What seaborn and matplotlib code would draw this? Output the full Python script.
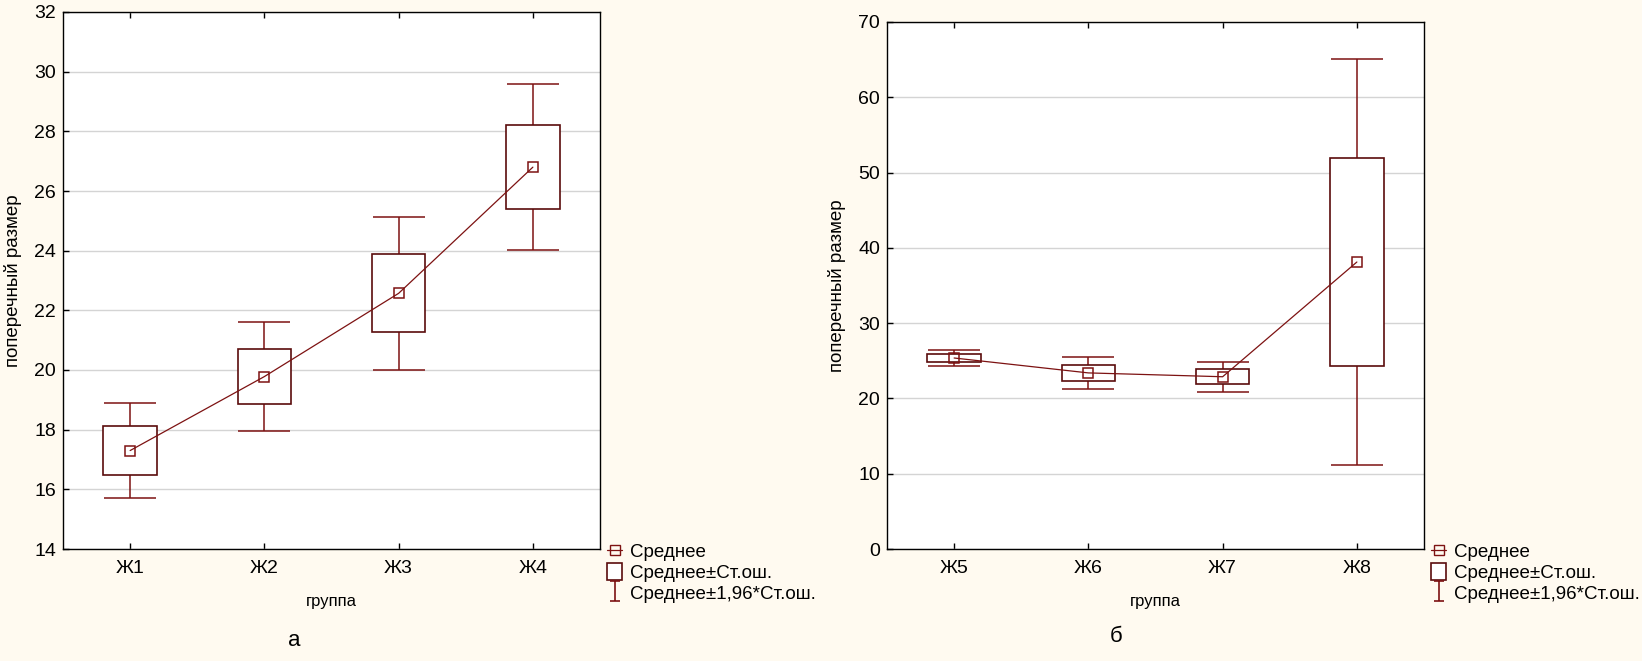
import matplotlib.pyplot as plt
import seaborn as sns
import numpy as np
from matplotlib.lines import Line2D
from matplotlib.patches import Rectangle
from matplotlib.path import Path

# panel "а"
groups_a = ['Ж1', 'Ж2', 'Ж3', 'Ж4']
mean_a = [17.30, 19.78, 22.57, 26.80]
se_a = [0.815, 0.93, 1.31, 1.42]
yticks_a = [14, 16, 18, 20, 22, 24, 26, 28, 30, 32]

# panel "б"
groups_b = ['Ж5', 'Ж6', 'Ж7', 'Ж8']
mean_b = [25.37, 23.39, 22.88, 38.12]
se_b = [0.52, 1.065, 1.0, 13.76]
yticks_b = [0, 10, 20, 30, 40, 50, 60, 70]

legend_labels = ['Среднее', 'Среднее±Ст.ош.', 'Среднее±1,96*Ст.ош.']

BG = '#fffaf0'
BOX = '#5a0c0c'
RED = '#7d1212'

sns.set_style('white')
plt.rcParams['font.family'] = ['Liberation Sans', 'DejaVu Sans']
plt.rcParams['text.color'] = 'black'
plt.rcParams['axes.labelcolor'] = 'black'
plt.rcParams['xtick.color'] = 'black'
plt.rcParams['ytick.color'] = 'black'

fig = plt.figure(figsize=(16.42, 6.61), dpi=100, facecolor=BG)
W, H = 1642, 661

def panel(rect, groups, mean, se, yticks, letter, letter_xy, leg_xy, ylab_x):
    l, t, r, b = rect
    ax = fig.add_axes([l / W, 1 - b / H, (r - l) / W, (b - t) / H])
    ax.set_facecolor('white')
    x = np.arange(len(groups))
    mean = np.array(mean)
    se = np.array(se)

    ax.errorbar(x, mean, yerr=1.96 * se, fmt='none', ecolor=RED, elinewidth=1.1,
                capsize=19, capthick=1.1, zorder=2)
    ax.bar(x, 2 * se, bottom=mean - se, width=0.4, color='white',
           edgecolor=BOX, linewidth=1.2, zorder=3)
    sns.lineplot(x=x, y=mean, ax=ax, color=RED, linewidth=0.9, marker='s',
                 markersize=6.5, markerfacecolor='none', markeredgecolor=RED,
                 markeredgewidth=1.1, zorder=4)

    ax.set_xlim(-0.5, len(groups) - 0.5)
    ax.set_ylim(yticks[0], yticks[-1])
    ax.set_xticks(x)
    ax.set_xticklabels(groups)
    ax.set_yticks(yticks)
    ax.yaxis.grid(True, color='#d4d4d4', linewidth=1)
    ax.set_axisbelow(True)
    ax.tick_params(axis='x', direction='in', top=True, bottom=True, length=4,
                   width=1, labelsize=14, pad=8)
    ax.tick_params(axis='y', direction='in', left=True, length=4, width=1,
                   labelsize=14, pad=5)
    for s in ax.spines.values():
        s.set_color('black')
        s.set_linewidth(1)

    ax.set_xlabel('группа', fontsize=12)
    ax.set_ylabel('поперечный размер', fontsize=13.5)
    ax.xaxis.set_label_coords(0.5, (b - 594) / (b - t))
    ax.yaxis.set_label_coords((ylab_x - l) / (r - l), 0.5)

    handles = [
        Line2D([], [], color=RED, linewidth=0.9, marker='s', markersize=6.5,
               markerfacecolor='none', markeredgecolor=RED),
        Rectangle((0, 0), 1, 1, facecolor='white', edgecolor=BOX, linewidth=1.2),
        Line2D([], [], color=RED, linestyle='none',
               marker=Path([(-0.5, 1), (0.5, 1), (0, 1), (0, -1), (-0.5, -1), (0.5, -1)],
                           [Path.MOVETO, Path.LINETO, Path.MOVETO, Path.LINETO,
                            Path.MOVETO, Path.LINETO]),
               markersize=15, markerfacecolor='none', markeredgewidth=1.2),
    ]
    ax.legend(handles, legend_labels, loc='upper left',
              bbox_to_anchor=(leg_xy[0] / W, 1 - leg_xy[1] / H),
              bbox_transform=fig.transFigure, frameon=False, fontsize=13.5,
              handlelength=0.8, handleheight=1.05, handletextpad=0.45,
              labelspacing=0.1, borderpad=0, borderaxespad=0)

    fig.text(letter_xy[0] / W, 1 - letter_xy[1] / H, letter, fontsize=16,
             ha='center', va='center')
    return ax

panel((63, 12, 600, 549), groups_a, mean_a, se_a, yticks_a, 'а', (294, 641),
      (607, 542), 22)
panel((887, 22, 1424, 549), groups_b, mean_b, se_b, yticks_b, 'б', (1116, 636),
      (1431, 542), 846)

fig.savefig('out.png', dpi=100, facecolor=BG)
